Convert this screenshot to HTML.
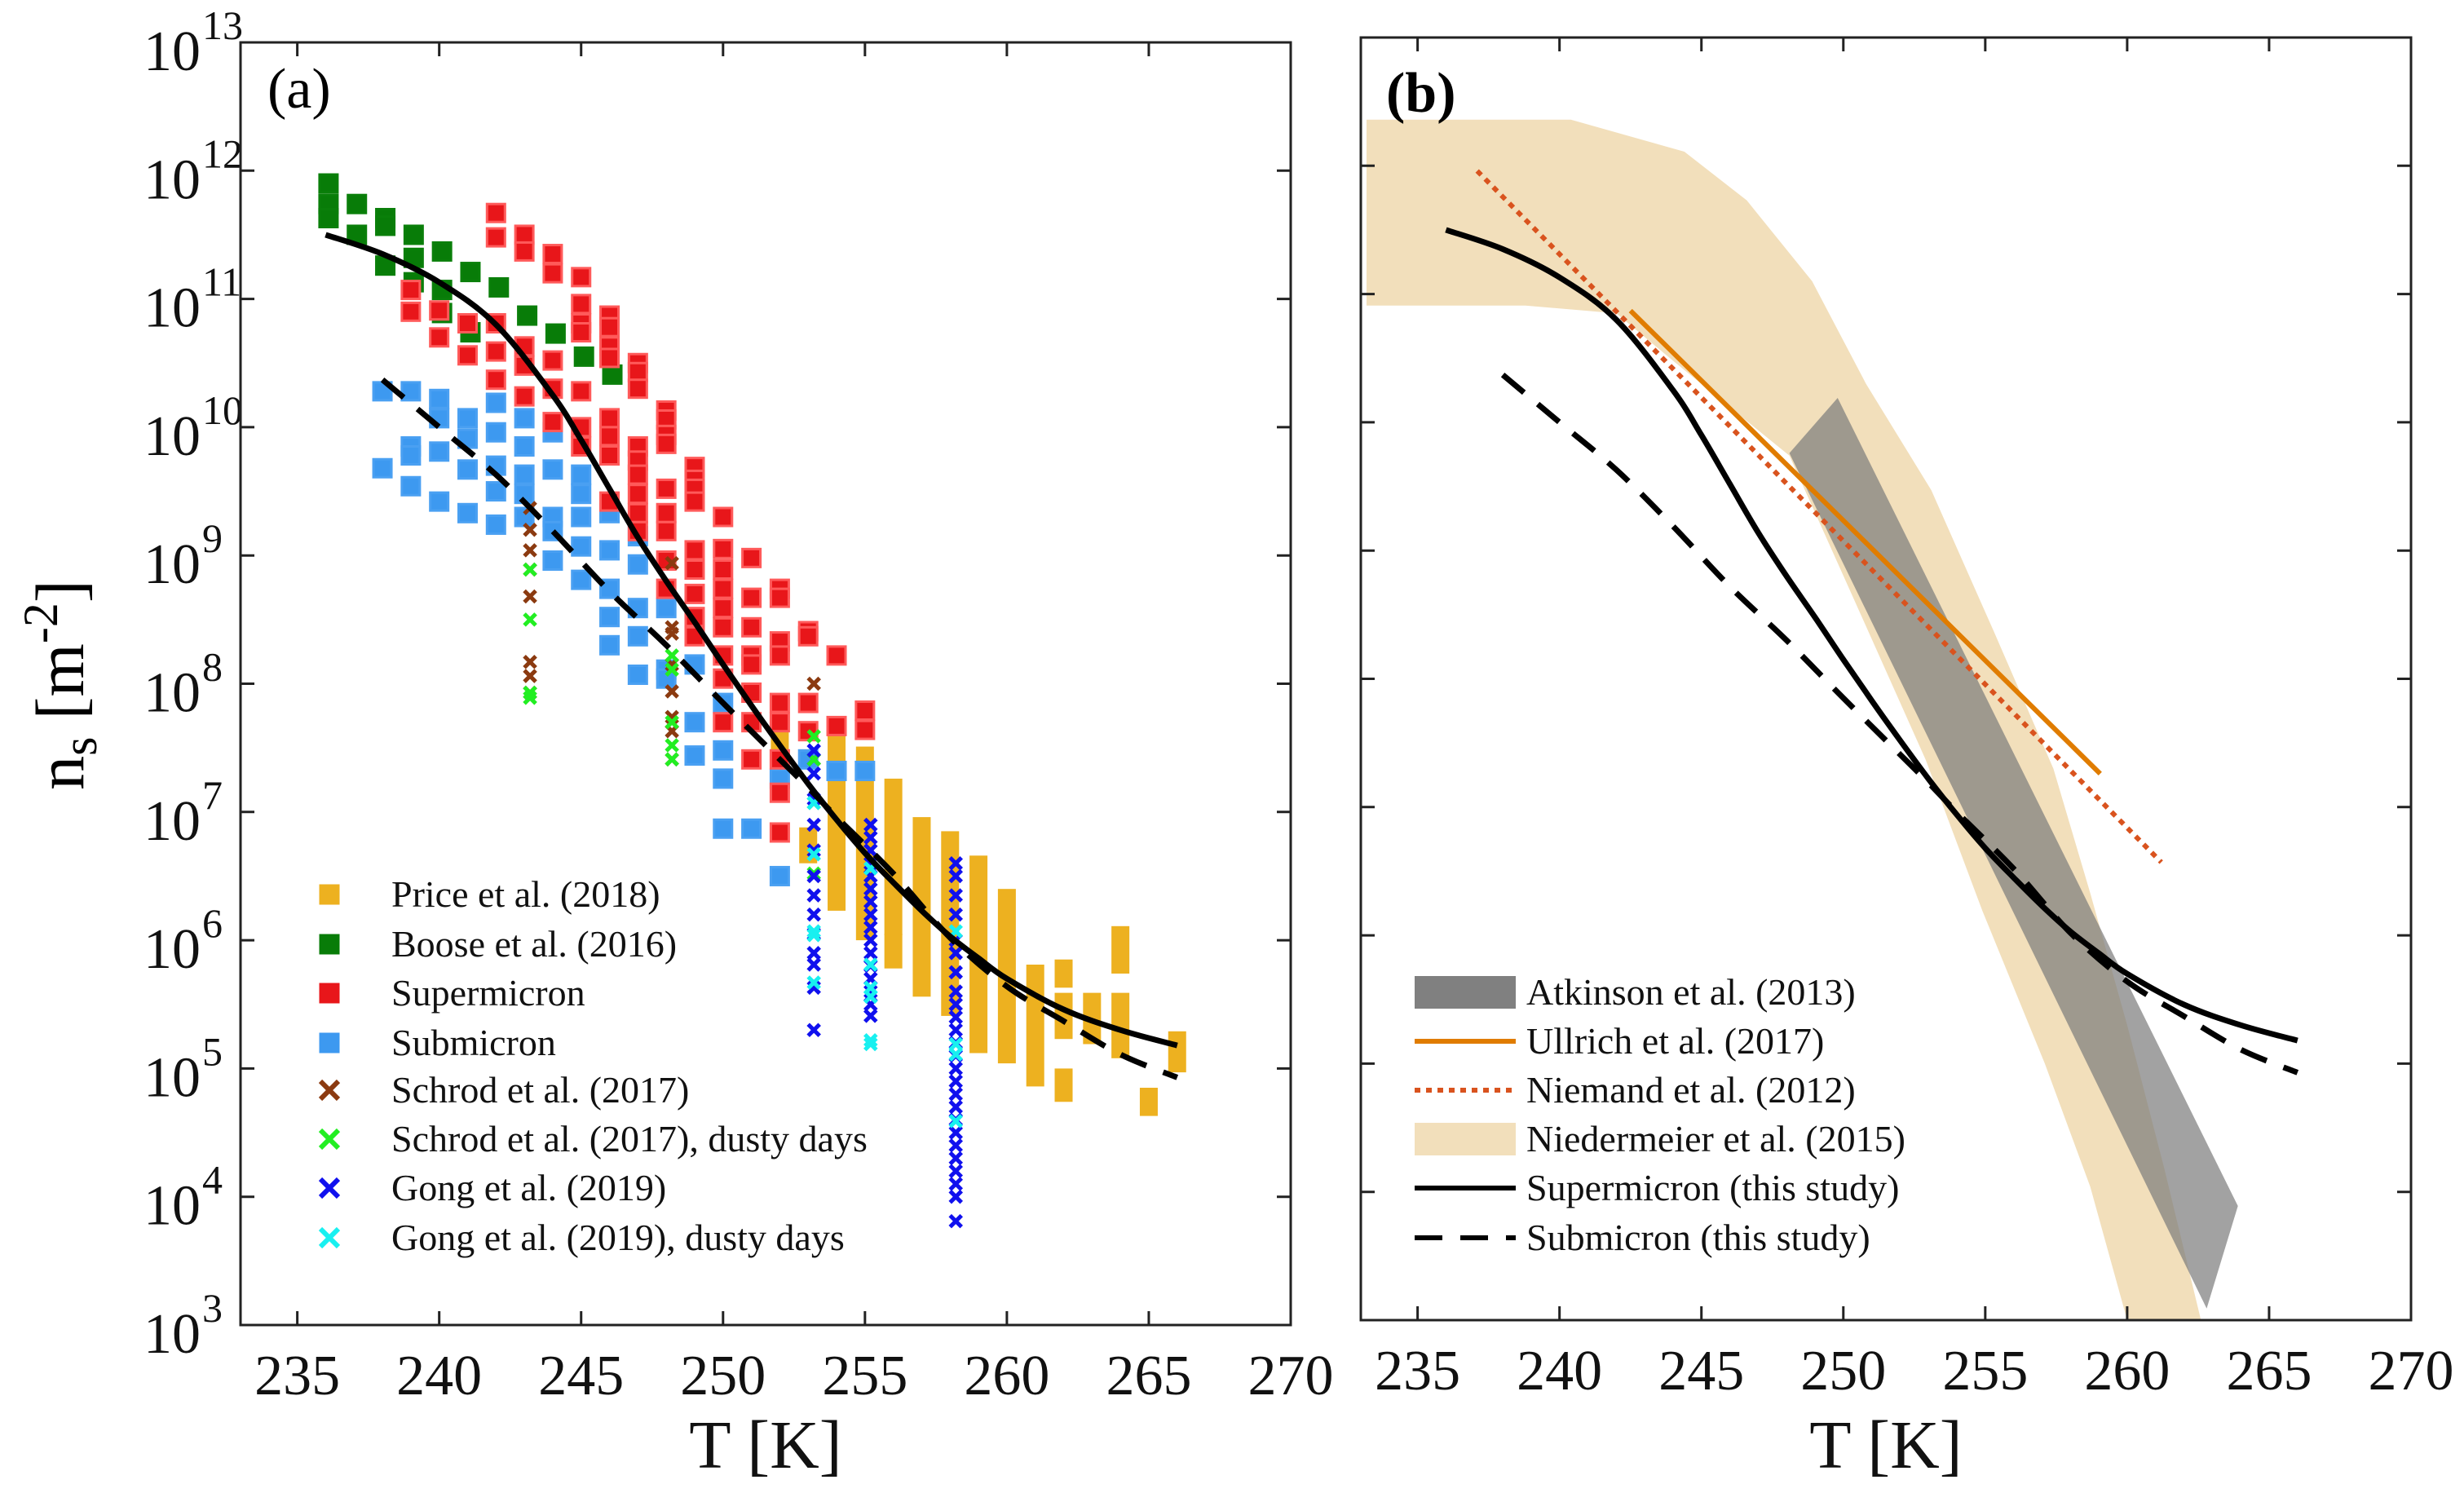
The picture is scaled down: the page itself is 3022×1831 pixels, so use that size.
<!DOCTYPE html>
<html><head><meta charset="utf-8"><style>
html,body{margin:0;padding:0;background:#fff;}
svg, svg text{font-family:"Liberation Serif","Times New Roman",serif;}
</style></head><body>
<svg id="fig" width="3022" height="1826" viewBox="0 0 3022 1826" xmlns="http://www.w3.org/2000/svg" font-family="Liberation Serif, serif">
<defs>
<clipPath id="clipL"><rect x="295" y="52" width="1288" height="1573"/></clipPath>
<clipPath id="clipR"><rect x="1669" y="46" width="1288" height="1573"/></clipPath>
</defs>
<rect width="3022" height="1826" fill="#fff"/>
<g id="gL"></g>
<g id="gR"></g>
</svg>
<script>
// ---- data (T in K, values as log10 of n_s [m^-2]) ----
const xTicks = [235,240,245,250,255,260,265,270];
const yTickExp = [3,4,5,6,7,8,9,10,11,12,13];
const curveT = [236,238,240,242,244,245,246,247,248,249,250,251,252,253,254,255,256,257,258,259,260,262,264,266];
const superLog = [11.5,11.35,11.13,10.8,10.25,9.9,9.52,9.14,8.8,8.48,8.15,7.83,7.52,7.22,6.94,6.68,6.45,6.23,6.03,5.86,5.7,5.46,5.3,5.18];
const subT = [238,240,242,244,246,248,250,252,253,254,256,258,260,262,264,266];
const subLog = [10.37,10.0,9.63,9.19,8.72,8.3,7.85,7.41,7.19,6.96,6.52,6.02,5.64,5.37,5.11,4.93];
const booseT = [236.1,236.1,236.1,237.1,237.1,238.1,238.1,238.1,239.1,239.1,239.1,240.1,240.1,240.1,241.1,241.1,242.1,243.1,244.1,245.1,246.1];
const booseLog = [11.9,11.74,11.63,11.74,11.5,11.63,11.57,11.26,11.5,11.32,11.13,11.37,11.07,10.89,11.21,10.74,11.09,10.87,10.73,10.55,10.41];
const superT = [239,239,240,240,241,241,242,242,242,242,242,243,243,243,243,243,244,244,244,244,244,245,245,245,245,245,245,245,246,246,246,246,246,246,246,246,247,247,247,247,247,247,247,247,247,248,248,248,248,248,248,248,248,248,249,249,249,249,249,249,249,249,249,250,250,250,250,250,250,250,250,250,251,251,251,251,251,251,251,251,252,252,252,252,252,252,252,252,252,253,253,253,253,254,254,255,255];
const superPtLog = [11.07,10.9,10.91,10.7,10.81,10.56,11.67,11.48,10.81,10.59,10.37,11.5,11.37,10.63,10.48,10.24,11.35,11.2,10.52,10.3,10.04,11.17,10.96,10.81,10.74,10.28,10.0,9.85,10.87,10.78,10.63,10.54,10.07,9.93,9.78,9.42,10.5,10.43,10.3,9.85,9.74,9.63,9.48,9.33,9.19,10.13,10.06,9.94,9.87,9.52,9.33,9.19,8.96,8.74,9.69,9.59,9.52,9.42,9.04,8.89,8.7,8.52,8.37,9.3,9.05,8.89,8.74,8.59,8.44,8.22,8.04,7.7,8.98,8.67,8.44,8.22,8.15,7.93,7.7,7.41,8.74,8.67,8.33,8.22,7.85,7.7,7.41,7.15,6.84,8.41,8.37,7.85,7.63,8.22,7.67,7.79,7.64];
const submT = [238,238,239,239,239,239,240,240,240,240,241,241,241,241,242,242,242,242,242,243,243,243,243,243,244,244,244,244,244,245,245,245,245,245,246,246,246,246,246,247,247,247,247,247,248,248,248,249,249,249,250,250,250,250,251,252,252,253,254,255];
const submLog = [10.28,9.68,10.28,9.85,9.78,9.54,10.22,10.07,9.81,9.42,10.07,9.91,9.67,9.33,10.19,9.96,9.7,9.5,9.24,10.07,9.85,9.63,9.48,9.3,9.96,9.67,9.3,9.19,8.96,9.63,9.48,9.3,9.07,8.81,9.33,9.04,8.74,8.52,8.3,9.15,8.93,8.59,8.37,8.07,8.59,8.11,8.04,8.15,7.7,7.44,7.85,7.48,7.26,6.87,6.87,7.26,6.5,7.41,7.32,7.32];
const priceT = [252,253,254,255,256,256,257,258,259,260,261,262,262,262,263,264,264,265,266];
const priceHi = [7.85,6.81,7.59,7.44,7.19,5.98,6.89,6.78,6.59,6.33,5.74,5.78,5.52,4.93,5.52,6.04,5.52,4.78,5.22];
const priceLo = [7.41,6.67,6.3,6.07,6.11,5.85,5.63,5.48,5.19,5.11,4.93,5.7,5.3,4.81,5.26,5.81,5.15,4.7,5.04];
const schrodT = [243.2,243.2,243.2,243.2,243.2,243.2,243.2,243.2,248.2,248.2,248.2,248.2,248.2,248.2,248.2,248.2,253.2,253.2];
const schrodLog = [9.37,9.2,9.04,8.89,8.68,8.17,8.06,7.93,8.94,8.44,8.39,8.15,7.94,7.74,7.63,7.41,8.0,7.41];
const schrodDustT = [243.2,243.2,243.2,243.2,248.2,248.2,248.2,248.2,248.2,253.2,253.2,253.2,253.2];
const schrodDustLog = [8.89,8.5,7.93,7.89,8.22,8.11,7.7,7.52,7.41,7.59,7.41,7.07,6.52];
const gongT = [253.2,253.2,253.2,253.2,253.2,253.2,253.2,253.2,253.2,253.2,253.2,253.2,253.2,255.2,255.2,255.2,255.2,255.2,255.2,255.2,255.2,255.2,255.2,255.2,255.2,255.2,255.2,255.2,255.2,258.2,258.2,258.2,258.2,258.2,258.2,258.2,258.2,258.2,258.2,258.2,258.2,258.2,258.2,258.2,258.2,258.2,258.2,258.2,258.2,258.2,258.2,258.2,258.2,258.2];
const gongLog = [7.48,7.3,7.1,6.9,6.7,6.5,6.35,6.2,6.05,5.9,5.81,5.63,5.3,6.9,6.8,6.7,6.6,6.5,6.4,6.3,6.2,6.1,6.0,5.9,5.8,5.7,5.6,5.5,5.41,6.6,6.5,6.35,6.2,6.0,5.9,5.75,5.6,5.5,5.4,5.3,5.2,5.1,5.0,4.9,4.8,4.7,4.6,4.5,4.4,4.3,4.2,4.1,4.0,3.81];
const gongDustT = [253.2,253.2,253.2,253.2,253.2,255.2,255.2,255.2,255.2,255.2,255.2,258.2,258.2,258.2,258.2];
const gongDustLog = [7.07,6.67,6.07,6.04,5.67,6.56,5.81,5.63,5.56,5.22,5.19,6.07,5.19,5.11,4.59];
// panel b
const niedTopT = [233.2,240.4,244.4,246.6,248.9,250.8,253.1,255.3,257.4,258.7,260.0,261.3,262.6];
const niedTopLog = [12.36,12.36,12.11,11.73,11.1,10.3,9.47,8.37,7.3,6.33,5.3,4.19,3.0];
const niedBotT = [233.2,238.8,242,244,246.1,248.1,249.3,250.8,252.9,254.9,257.1,258.7,260.0];
const niedBotLog = [10.91,10.91,10.85,10.48,10.1,9.74,9.15,8.41,7.37,6.19,5.0,4.04,3.0];
const atkT = [248.1,249.8,263.9,262.8];
const atkLog = [9.76,10.19,3.89,3.09];
const ullT = [242.5,259.05];
const ullLog = [10.87,7.26];
const niemT = [237.1,261.2];
const niemLog = [11.96,6.57];

const NS = "http://www.w3.org/2000/svg";
const FONT = '"Liberation Serif", "Times New Roman", serif';
const PL = {x0:295,x1:1583,y0:52,y1:1625};
const PR = {x0:1669,x1:2957,y0:46,y1:1619};
function xs(p,T){return p.x0+(T-233)/37*(p.x1-p.x0);}
function ys(p,e){return p.y0+(13-e)/10*(p.y1-p.y0);}
function mk(tag,attrs,parent){const el=document.createElementNS(NS,tag);for(const k in attrs)el.setAttribute(k,attrs[k]);if(tag==='text')el.setAttribute('font-family',FONT);parent.appendChild(el);return el;}
function pathD(p,T,E){return T.map((t,i)=>(i?'L':'M')+xs(p,t).toFixed(1)+','+ys(p,E[i]).toFixed(1)).join(' ');}
function smoothD(p,T,E){
  const P=T.map((t,i)=>[xs(p,t),ys(p,E[i])]);
  let d='M'+P[0][0].toFixed(1)+','+P[0][1].toFixed(1);
  for(let i=0;i<P.length-1;i++){
    const p0=P[Math.max(0,i-1)],p1=P[i],p2=P[i+1],p3=P[Math.min(P.length-1,i+2)];
    const c1=[p1[0]+(p2[0]-p0[0])/6,p1[1]+(p2[1]-p0[1])/6];
    const c2=[p2[0]-(p3[0]-p1[0])/6,p2[1]-(p3[1]-p1[1])/6];
    d+=`C${c1[0].toFixed(1)},${c1[1].toFixed(1)} ${c2[0].toFixed(1)},${c2[1].toFixed(1)} ${p2[0].toFixed(1)},${p2[1].toFixed(1)}`;
  }
  return d;
}

function axes(g,p,withYLabels){
  const t=17;
  for(const T of xTicks){
    const x=xs(p,T);
    if(T<270){
      const tk=mk('path',{d:`M${x},${p.y1}v${-t}M${x},${p.y0}v${t}`,stroke:'#222','stroke-width':3},g);
      
      
    }
    const lb=mk('text',{x:x,y:p.y1+85,'font-size':70,'text-anchor':'middle',fill:'#111'},g);
    lb.textContent=T;
    
    
  }
  for(const e of yTickExp){
    const y=ys(p,e);
    if(e>3&&e<13){
      const tk=mk('path',{d:`M${p.x0},${y}h${t}M${p.x1},${y}h${-t}`,stroke:'#222','stroke-width':3},g);
      
      
    }
    if(withYLabels){
      const lb=mk('text',{x:246,y:y+34,'font-size':70,'text-anchor':'end',fill:'#111'},g);
      lb.textContent='10';
      
      
      const sp=mk('text',{x:248,y:y-4,'font-size':50,'text-anchor':'start',fill:'#111'},g);
      sp.textContent=e;
      
      
    }
  }
  const fr=mk('rect',{x:p.x0,y:p.y0,width:p.x1-p.x0,height:p.y1-p.y0,fill:'none',stroke:'#222','stroke-width':3},g);
  
  
  const xl=mk('text',{x:(p.x0+p.x1)/2,y:1800,'font-size':84,'text-anchor':'middle',fill:'#111'},g);
  xl.textContent='T [K]';
  
  
}
function square(g,x,y,fill,stroke,name){
  const r=mk('rect',{x:x-11,y:y-11,width:22,height:22,fill:fill,stroke:stroke,'stroke-width':3},g);
  
  
}
function cross(g,x,y,col,name){
  const c=mk('path',{d:`M${x-7},${y-7}L${x+7},${y+7}M${x+7},${y-7}L${x-7},${y+7}`,stroke:col,'stroke-width':5,fill:'none'},g);
  
  
}

// ---------- panel a ----------
const gL=document.getElementById('gL');
const dL=mk('g',{'clip-path':'url(#clipL)'},gL);


priceT.forEach((t,i)=>{
  const x=xs(PL,t),y1=ys(PL,priceHi[i]),y2=ys(PL,priceLo[i]);
  const r=mk('rect',{x:x-11,y:y1-11,width:22,height:y2-y1+22,fill:'#edb120'},dL);
  
  
});
booseT.forEach((t,i)=>square(dL,xs(PL,t),ys(PL,booseLog[i]),'#087c08','#0a7f0a','boose-2016-point'));
submT.forEach((t,i)=>square(dL,xs(PL,t),ys(PL,submLog[i]),'#3d99f0','#4aa0f2','submicron-point'));
superT.forEach((t,i)=>square(dL,xs(PL,t),ys(PL,superPtLog[i]),'#e8161a','#ff5a5a','supermicron-point'));
schrodT.forEach((t,i)=>cross(dL,xs(PL,t),ys(PL,schrodLog[i]),'#8b3a10','schrod-2017-point'));
schrodDustT.forEach((t,i)=>cross(dL,xs(PL,t),ys(PL,schrodDustLog[i]),'#22ee22','schrod-2017-dusty-point'));
gongT.forEach((t,i)=>cross(dL,xs(PL,t),ys(PL,gongLog[i]),'#1010ee','gong-2019-point'));
gongDustT.forEach((t,i)=>cross(dL,xs(PL,t),ys(PL,gongDustLog[i]),'#18f0f0','gong-2019-dusty-point'));
const supA=mk('path',{d:smoothD(PL,curveT,superLog),fill:'none',stroke:'#000','stroke-width':7},dL);


const subA=mk('path',{d:smoothD(PL,subT,subLog),fill:'none',stroke:'#000','stroke-width':7,'stroke-dasharray':'34 22'},dL);


axes(gL,PL,true);
const pa=mk('text',{x:328,y:132,'font-size':70,fill:'#000'},gL);
pa.textContent='(a)';


const yt=mk('text',{x:0,y:0,'font-size':84,fill:'#000','text-anchor':'middle',transform:'translate(102,840) rotate(-90)'},gL);
yt.innerHTML='n<tspan font-size="60" dy="16">s</tspan><tspan dy="-16"> [m</tspan><tspan font-size="60" dy="-32">-2</tspan><tspan dy="32">]</tspan>';


const legA=mk('g',{},gL);


const legANames=['Price et al. (2018)','Boose et al. (2016)','Supermicron','Submicron','Schrod et al. (2017)','Schrod et al. (2017), dusty days','Gong et al. (2019)','Gong et al. (2019), dusty days'];
const legAY=[1097,1158,1218,1279,1337,1397,1457,1518];
const legACol=['#edb120','#087c08','#e8161a','#3d99f0','#8b3a10','#22ee22','#1010ee','#18f0f0'];
legANames.forEach((n,i)=>{
  if(i<4) square(legA,404,legAY[i],legACol[i],legACol[i],'legend-marker');
  else { const c=mk('path',{d:`M393,${legAY[i]-11}l22,22m0,-22l-22,22`,stroke:legACol[i],'stroke-width':6},legA);
    
     }
  const tx=mk('text',{x:480,y:legAY[i]+15,'font-size':46,fill:'#111'},legA);
  tx.textContent=n;
  
  
});

// ---------- panel b ----------
const gR=document.getElementById('gR');
const dR=mk('g',{'clip-path':'url(#clipR)'},gR);


const bandT=niedTopT.concat(niedBotT.slice().reverse());
const bandL=niedTopLog.concat(niedBotLog.slice().reverse());
const band=mk('path',{d:pathD(PR,bandT,bandL)+'Z',fill:'#f2dfbb'},dR);


const atk=mk('path',{d:pathD(PR,atkT,atkLog)+'Z',fill:'#7a7a7a','fill-opacity':0.7},dR);


const ull=mk('path',{d:pathD(PR,ullT,ullLog),stroke:'#e07c00','stroke-width':6,fill:'none'},dR);


const nie=mk('path',{d:pathD(PR,niemT,niemLog),stroke:'#d9531e','stroke-width':6,fill:'none','stroke-dasharray':'7 7'},dR);


const supB=mk('path',{d:smoothD(PR,curveT,superLog),fill:'none',stroke:'#000','stroke-width':7},dR);


const subB=mk('path',{d:smoothD(PR,subT,subLog),fill:'none',stroke:'#000','stroke-width':7,'stroke-dasharray':'34 22'},dR);


axes(gR,PR,false);
const pb=mk('text',{x:1700,y:137,'font-size':70,'font-weight':'bold',fill:'#000'},gR);
pb.textContent='(b)';


const legB=mk('g',{},gR);


const legBNames=['Atkinson et al. (2013)','Ullrich et al. (2017)','Niemand et al. (2012)','Niedermeier et al. (2015)','Supermicron (this study)','Submicron (this study)'];
const legBY=[1217,1277,1337,1397,1457,1518];
legBNames.forEach((n,i)=>{
  const y=legBY[i];
  let m;
  if(i===0) m=mk('rect',{x:1735,y:y-20,width:124,height:40,fill:'#808080'},legB);
  else if(i===3) m=mk('rect',{x:1735,y:y-20,width:124,height:40,fill:'#f2dfbb'},legB);
  else if(i===1) m=mk('path',{d:`M1735,${y}h124`,stroke:'#e07c00','stroke-width':6},legB);
  else if(i===2) m=mk('path',{d:`M1735,${y}h124`,stroke:'#d9531e','stroke-width':6,'stroke-dasharray':'7 7'},legB);
  else if(i===4) m=mk('path',{d:`M1735,${y}h124`,stroke:'#000','stroke-width':6},legB);
  else m=mk('path',{d:`M1735,${y}h124`,stroke:'#000','stroke-width':6,'stroke-dasharray':'34 22'},legB);
  
  
  const tx=mk('text',{x:1872,y:y+15,'font-size':46,fill:'#111'},legB);
  tx.textContent=n;
  
  
});
</script>
</body></html>
